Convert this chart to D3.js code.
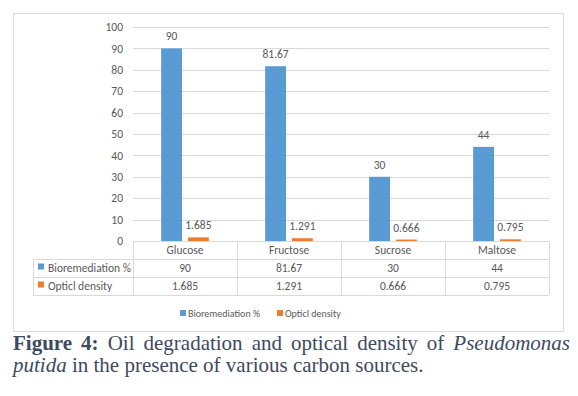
<!DOCTYPE html>
<html><head><meta charset="utf-8">
<script src="https://cdn.jsdelivr.net/npm/d3@7"></script>
<style>
body{margin:0;background:#fff;width:578px;height:396px;overflow:hidden;position:relative;}
#cap{position:absolute;left:13px;top:332px;width:557px;font-family:"Liberation Serif","DejaVu Serif",serif;font-size:21px;line-height:22px;color:#3e4a5e;text-align:justify;text-align-last:left;}
</style></head><body>
<svg id="c" width="578" height="396" style="position:absolute;left:0;top:0"></svg>
<div id="cap"><b>Figure 4:</b> Oil degradation and optical density of <i>Pseudomonas putida</i> in the presence of various carbon sources.</div>
<script>
const categories = ["Glucose","Fructose","Sucrose","Maltose"];
const seriesNames = ["Bioremediation %","Opticl density"];
const bioremediation = [90,81.67,30,44];
const opticalDensity = [1.685,1.291,0.666,0.795];
const bioLabels = ["90","81.67","30","44"];
const odLabels = ["1.685","1.291","0.666","0.795"];
const yTicks = [0,10,20,30,40,50,60,70,80,90,100];
const colors = ["#5B9BD5","#ED7D31"];

const svg = d3.select("#c");
const F = "Calibri, Carlito, Lato, 'Open Sans', 'Noto Sans', sans-serif";
const textCol = "#595959";
// frame
svg.append("rect").attr("x",13.5).attr("y",13.5).attr("width",550).attr("height",318)
  .attr("fill","#fff").attr("stroke","#d9d9d9").attr("stroke-width",1);

const L=133, R=549, T=27, B=241;
const x = d3.scaleBand().domain(categories).range([L,R]);
const y = d3.scaleLinear().domain([0,100]).range([B,T]);
const inner = d3.scaleBand().domain(seriesNames).range([0,x.bandwidth()]).paddingInner(0.22).paddingOuter(1.05);

// gridlines
svg.append("g").selectAll("line").data(yTicks.filter(d=>d>0)).join("line")
  .attr("x1",L).attr("x2",R).attr("y1",d=>Math.round(y(d))+0.5).attr("y2",d=>Math.round(y(d))+0.5)
  .attr("stroke","#d9d9d9");
// y axis labels
const ya = d3.axisLeft(y).tickValues(yTicks).tickSize(0).tickPadding(10);
const yg = svg.append("g").attr("transform",`translate(${L},0)`).call(ya);
yg.select(".domain").remove();
yg.selectAll("text").attr("font-family",F).attr("font-size",11.5).attr("fill",textCol);

const series=[bioremediation,opticalDensity];
const labels=[bioLabels,odLabels];
series.forEach((vals,si)=>{
  const g=svg.append("g");
  g.selectAll("rect").data(categories).join("rect")
    .attr("x",c=>x(c)+inner(seriesNames[si]))
    .attr("width",inner.bandwidth())
    .attr("y",(c,i)=>y(vals[i]))
    .attr("height",(c,i)=>B-y(vals[i]))
    .attr("fill",colors[si]);
  g.selectAll("text").data(categories).join("text")
    .attr("x",c=>x(c)+inner(seriesNames[si])+inner.bandwidth()/2)
    .attr("y",(c,i)=>y(vals[i])-8)
    .attr("text-anchor","middle")
    .attr("font-family",F).attr("font-size",11.5).attr("fill",textCol)
    .text((c,i)=>labels[si][i]);
});

// data table
const rowH=18, tL=33;
const rows=[B, B+rowH, B+2*rowH, B+3*rowH];
const tg=svg.append("g").attr("stroke","#d9d9d9").attr("shape-rendering","crispEdges");
tg.append("line").attr("x1",L).attr("x2",R).attr("y1",B).attr("y2",B);
[1,2,3].forEach(r=>tg.append("line").attr("x1",tL).attr("x2",R).attr("y1",rows[r]).attr("y2",rows[r]));
tg.append("line").attr("x1",tL).attr("x2",tL).attr("y1",rows[1]).attr("y2",rows[3]);
categories.forEach(c=>tg.append("line").attr("x1",x(c)).attr("x2",x(c)).attr("y1",B).attr("y2",rows[3]));
tg.append("line").attr("x1",R).attr("x2",R).attr("y1",B).attr("y2",rows[3]);

svg.append("g").selectAll("text").data(categories).join("text")
  .attr("x",c=>x(c)+x.bandwidth()/2).attr("y",B+rowH/2+4)
  .attr("text-anchor","middle").attr("font-family",F).attr("font-size",11.5).attr("fill",textCol).text(c=>c);
series.forEach((vals,si)=>{
  const yy=rows[1+si]+rowH/2+4;
  svg.append("rect").attr("x",38).attr("y",yy-8.5).attr("width",6).attr("height",6).attr("fill",colors[si]);
  svg.append("text").attr("x",48).attr("y",yy).attr("font-family",F).attr("font-size",11.5).attr("fill",textCol).text(seriesNames[si]);
  svg.append("g").selectAll("text").data(categories).join("text")
    .attr("x",c=>x(c)+x.bandwidth()/2).attr("y",yy)
    .attr("text-anchor","middle").attr("font-family",F).attr("font-size",11.5).attr("fill",textCol)
    .text((c,i)=>labels[si][i]);
});

// legend
const lg=svg.append("g");
const lx=[180,277];
seriesNames.forEach((n,i)=>{
  lg.append("rect").attr("x",lx[i]).attr("y",310).attr("width",6).attr("height",6).attr("fill",colors[i]);
  lg.append("text").attr("x",lx[i]+8).attr("y",316.5).attr("font-family",F).attr("font-size",10).attr("fill",textCol).text(n);
});
</script>
</body></html>
